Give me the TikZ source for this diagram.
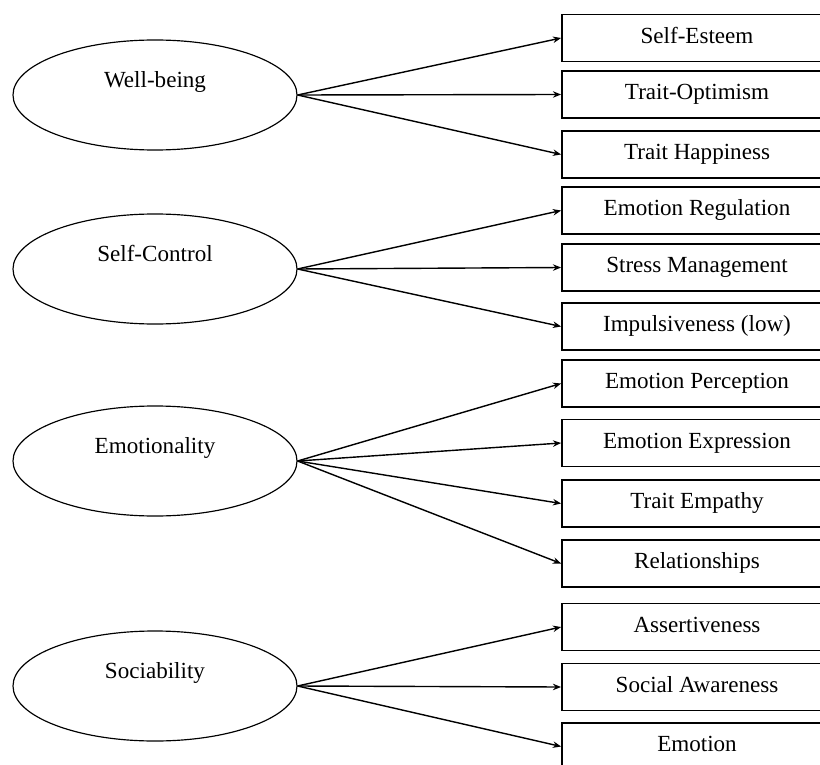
\documentclass[tikz,border=0pt]{standalone}
\usepackage{fontspec}
\setmainfont{Liberation Serif}
\usetikzlibrary{shapes.geometric, arrows.meta}

\begin{document}
\begin{tikzpicture}[x=0.03cm, y=-0.03cm,
    factor/.style={ellipse, draw, line width=1pt, minimum width=8.52cm, minimum height=3.3cm, inner sep=0pt, font=\fontsize{19.7}{23}\selectfont, text height=0.7em, text depth=2em},
    facet/.style={rectangle, draw, line width=1.5pt, minimum width=8.1cm, minimum height=1.41cm, inner sep=0pt, font=\fontsize{19.7}{23}\selectfont, text height=0.9em, text depth=0em},
    link/.style={-{Stealth[length=7pt, width=5.5pt]}, line width=1.2pt}]
    \useasboundingbox (0,0) rectangle (820,765);

    % Factors
    \node[factor] (F_WB) at (155,95)  {Well-being};
    \node[factor] (F_SC) at (155,269) {Self-Control};
    \node[factor] (F_EM) at (155,461) {Emotionality};
    \node[factor] (F_SO) at (155,686) {Sociability};

    % Facets
    \node[facet] (S_SE) at (697,38)    {Self-Esteem};
    \node[facet] (S_TO) at (697,94.5)  {Trait-Optimism};
    \node[facet] (S_TH) at (697,154.5) {Trait Happiness};
    \node[facet] (S_ER) at (697,210.5) {Emotion Regulation};
    \node[facet] (S_SM) at (697,267.5) {Stress Management};
    \node[facet] (S_IM) at (697,326.5) {Impulsiveness (low)};
    \node[facet] (S_EP) at (697,383.5) {Emotion Perception};
    \node[facet] (S_EE) at (697,443)   {Emotion Expression};
    \node[facet] (S_TE) at (697,503.5) {Trait Empathy};
    \node[facet] (S_RE) at (697,563.5) {Relationships};
    \node[facet] (S_AS) at (697,627)   {Assertiveness};
    \node[facet] (S_SA) at (697,687)   {Social Awareness};
    \node[facet] (S_EO) at (697,746.5) {Emotion};

    % Loadings
    \draw[link] (F_WB.east) -- (S_SE.west); \draw[link] (F_WB.east) -- (S_TO.west); \draw[link] (F_WB.east) -- (S_TH.west);
    \draw[link] (F_SC.east) -- (S_ER.west); \draw[link] (F_SC.east) -- (S_SM.west); \draw[link] (F_SC.east) -- (S_IM.west);
    \draw[link] (F_EM.east) -- (S_EP.west); \draw[link] (F_EM.east) -- (S_EE.west);
    \draw[link] (F_EM.east) -- (S_TE.west); \draw[link] (F_EM.east) -- (S_RE.west);
    \draw[link] (F_SO.east) -- (S_AS.west); \draw[link] (F_SO.east) -- (S_SA.west); \draw[link] (F_SO.east) -- (S_EO.west);

\end{tikzpicture}
\end{document}
